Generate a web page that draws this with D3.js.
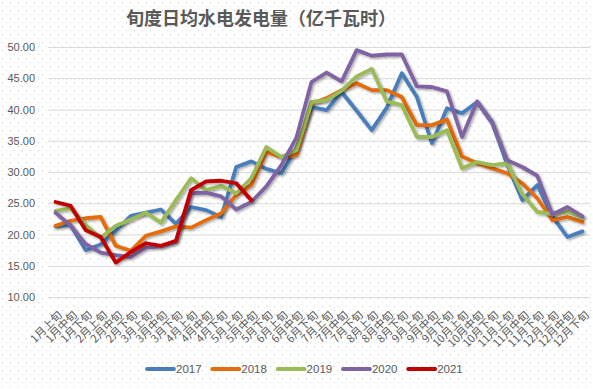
<!DOCTYPE html>
<html><head><meta charset="utf-8">
<script src="https://cdn.jsdelivr.net/npm/d3@7"></script>
<style>html,body{margin:0;padding:0;background:#fff;}svg{display:block;}</style>
</head><body>
<script>
const categories = ["1月上旬","1月中旬","1月下旬","2月上旬","2月中旬","2月下旬","3月上旬","3月中旬","3月下旬","4月上旬","4月中旬","4月下旬","5月上旬","5月中旬","5月下旬","6月上旬","6月中旬","6月下旬","7月上旬","7月中旬","7月下旬","8月上旬","8月中旬","8月下旬","9月上旬","9月中旬","9月下旬","10月上旬","10月中旬","10月下旬","11月上旬","11月中旬","11月下旬","12月上旬","12月中旬","12月下旬"];
const s2017 = [21.3,21.5,17.5,18.4,20.6,23.0,23.5,24.0,21.7,24.4,23.9,22.8,30.8,31.7,30.5,29.8,33.8,40.4,39.9,42.8,39.8,36.7,40.3,45.8,42.0,34.6,40.2,39.4,41.2,38.0,31.2,25.5,27.9,22.9,19.6,20.5];
const s2018 = [21.4,22.2,22.6,22.8,18.2,17.4,19.8,20.5,21.3,21.1,22.3,23.4,26.3,27.9,33.2,32.4,32.7,41.0,41.8,43.1,44.2,43.1,43.1,42.0,37.5,37.5,38.4,32.5,31.4,30.6,29.8,28.2,25.8,22.3,22.8,22.0];
const s2019 = [23.8,24.2,21.5,19.5,21.4,22.4,23.5,21.9,25.5,29.0,27.1,27.8,26.6,29.0,34.0,32.4,33.5,41.2,41.5,43.0,45.3,46.5,41.3,40.7,35.6,35.6,36.7,30.6,31.6,31.1,31.4,26.5,23.6,23.3,23.7,22.7];
const s2020 = [23.5,21.4,18.5,17.1,16.7,16.4,17.9,18.1,18.8,26.6,26.7,26.1,24.0,25.2,27.7,31.1,35.5,44.4,45.9,44.5,49.5,48.6,48.8,48.8,43.7,43.6,42.9,35.6,41.3,37.8,31.9,30.8,29.4,23.2,24.4,22.9];
const s2021 = [25.2,24.6,20.7,19.6,15.5,17.2,18.6,18.2,19.0,27.1,28.5,28.6,28.2,25.5];
const seriesNames = ["2017","2018","2019","2020","2021"];
const yTicks = [10,15,20,25,30,35,40,45,50];
const title = "旬度日均水电发电量（亿千瓦时）";

const colors = ["#4A7EBB","#E46C0A","#9BBB59","#8064A2","#C00000"];
const allSeries = [s2017,s2018,s2019,s2020,s2021];

const W = 593, H = 389;
const svg = d3.select("body").append("svg").attr("width", W).attr("height", H);
const defs = svg.append("defs");
const pat = defs.append("pattern").attr("id","dots").attr("width",8).attr("height",8).attr("patternUnits","userSpaceOnUse");
pat.append("rect").attr("x",2).attr("y",2).attr("width",1).attr("height",1).attr("fill","#d4d4d4");
pat.append("rect").attr("x",6).attr("y",6).attr("width",1).attr("height",1).attr("fill","#d4d4d4");
const f = defs.append("filter").attr("id","sh").attr("x","-10%").attr("y","-10%").attr("width","120%").attr("height","120%");
f.append("feDropShadow").attr("dx",1.5).attr("dy",1.5).attr("stdDeviation",1.2).attr("flood-color","#000").attr("flood-opacity",0.35);

svg.append("rect").attr("width",W).attr("height",H).attr("fill","#fff");
svg.append("rect").attr("width",W).attr("height",H).attr("fill","url(#dots)");

const x = d3.scalePoint().domain(categories).range([48, 590]).padding(0.5);
const y = d3.scaleLinear().domain([10, 50]).range([297, 47]);

svg.append("text").attr("x", 261).attr("y", 25).attr("text-anchor","middle")
  .attr("font-family","'Noto Sans CJK SC', sans-serif").attr("font-size",18).attr("font-weight","bold")
  .attr("fill","#595959").text(title);

// gridlines
const yAxis = d3.axisLeft(y).tickValues(yTicks).tickSize(-(590-48)).tickFormat(d3.format(".2f"));
const ga = svg.append("g").attr("transform","translate(48,0)").call(yAxis);
ga.select(".domain").remove();
ga.selectAll(".tick line").attr("stroke","#d9d9d9").attr("stroke-width",1);
ga.selectAll(".tick text").attr("x",-13).attr("fill","#595959")
  .attr("font-family","'Liberation Sans', Arial, sans-serif").attr("font-size",11);

// x axis labels
const xAxis = d3.axisBottom(x).tickSize(0);
const gx = svg.append("g").attr("transform","translate(0,297)").call(xAxis);
gx.select(".domain").remove();
gx.selectAll(".tick text")
  .attr("font-family","'Noto Sans CJK SC', sans-serif").attr("font-size",11).attr("fill","#595959")
  .attr("text-anchor","end").attr("y",0).attr("dy","0.35em")
  .attr("transform","translate(4,16) rotate(-45)");

// lines
const line = d3.line().defined(d => d != null).x((d,i) => x(categories[i])).y(d => y(d));
allSeries.forEach((s,k) => {
  svg.append("path").datum(s).attr("d", line).attr("fill","none")
    .attr("stroke", colors[k]).attr("stroke-width",3.8)
    .attr("stroke-linejoin","round").attr("stroke-linecap","round")
    .attr("filter","url(#sh)");
});

// legend
const lg = svg.append("g");
seriesNames.forEach((n,k) => {
  const lx = 147 + k*65.3;
  lg.append("line").attr("x1",lx).attr("x2",lx+27).attr("y1",369).attr("y2",369)
    .attr("stroke",colors[k]).attr("stroke-width",3.8).attr("stroke-linecap","round");
  lg.append("text").attr("x",lx+29).attr("y",369).attr("dy","0.35em")
    .attr("font-family","'Liberation Sans', Arial, sans-serif").attr("font-size",11.5).attr("fill","#595959").text(n);
});
</script>
</body></html>
